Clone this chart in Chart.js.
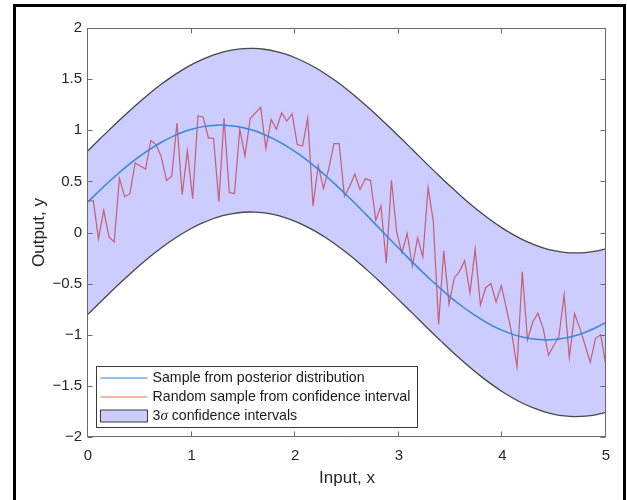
<!DOCTYPE html>
<html><head><meta charset="utf-8">
<script src="https://cdn.jsdelivr.net/npm/chart.js@4"></script>
<style>
html,body{margin:0;padding:0;background:#fff;}
#wrap{position:relative;width:627px;height:500px;overflow:hidden;}
#frame{position:absolute;left:13px;top:4px;width:607px;height:520px;border:3px solid #000;pointer-events:none;}
canvas{position:absolute;left:0;top:0;}
</style></head><body>
<div id="wrap"><canvas id="c" width="627" height="500"></canvas><div id="frame"></div></div>
<script>
// ---- data ----
const xTicks = [0, 1, 2, 3, 4, 5];
const yTicks = [-2, -1.5, -1, -0.5, 0, 0.5, 1, 1.5, 2];

const curveX = [0,0.1,0.2,0.3,0.4,0.5,0.6,0.7,0.8,0.9,1.0,1.1,1.2,1.3,1.4,1.5,1.6,1.7,1.8,1.9,2.0,2.1,2.2,2.3,2.4,2.5,2.6,2.7,2.8,2.9,3.0,3.1,3.2,3.3,3.4,3.5,3.6,3.7,3.8,3.9,4.0,4.1,4.2,4.3,4.4,4.5,4.6,4.7,4.8,4.9,5.0];
const posterior = [0.300,0.399,0.494,0.584,0.668,0.746,0.816,0.878,0.931,0.975,1.009,1.033,1.046,1.050,1.042,1.025,0.997,0.959,0.911,0.855,0.790,0.717,0.637,0.550,0.458,0.362,0.262,0.159,0.054,-0.051,-0.155,-0.258,-0.358,-0.455,-0.547,-0.634,-0.714,-0.787,-0.853,-0.910,-0.957,-0.996,-1.024,-1.042,-1.050,-1.047,-1.033,-1.010,-0.976,-0.932,-0.880];
const upperBound = [0.800,0.900,0.999,1.096,1.189,1.279,1.365,1.444,1.517,1.583,1.642,1.691,1.732,1.764,1.785,1.798,1.800,1.792,1.774,1.746,1.709,1.663,1.609,1.546,1.476,1.399,1.316,1.227,1.135,1.039,0.941,0.842,0.742,0.642,0.545,0.449,0.358,0.270,0.188,0.112,0.043,-0.018,-0.072,-0.116,-0.152,-0.178,-0.194,-0.200,-0.196,-0.183,-0.159];
const lowerBound = [-0.800,-0.700,-0.601,-0.504,-0.411,-0.321,-0.235,-0.156,-0.083,-0.017,0.042,0.091,0.132,0.164,0.185,0.198,0.200,0.192,0.174,0.146,0.109,0.063,0.009,-0.054,-0.124,-0.201,-0.284,-0.373,-0.465,-0.561,-0.659,-0.758,-0.858,-0.958,-1.055,-1.151,-1.242,-1.330,-1.412,-1.488,-1.557,-1.618,-1.672,-1.716,-1.752,-1.778,-1.794,-1.800,-1.796,-1.783,-1.759];

const sampleX = [0,0.051,0.101,0.152,0.202,0.253,0.303,0.354,0.404,0.455,0.505,0.556,0.606,0.657,0.707,0.758,0.808,0.859,0.909,0.960,1.010,1.061,1.111,1.162,1.212,1.263,1.313,1.364,1.414,1.465,1.515,1.566,1.616,1.667,1.717,1.768,1.818,1.869,1.919,1.970,2.020,2.071,2.121,2.172,2.222,2.273,2.323,2.374,2.424,2.475,2.525,2.576,2.626,2.677,2.727,2.778,2.828,2.879,2.929,2.980,3.030,3.081,3.131,3.182,3.232,3.283,3.333,3.384,3.434,3.485,3.535,3.586,3.636,3.687,3.737,3.788,3.838,3.889,3.939,3.990,4.040,4.091,4.141,4.192,4.242,4.293,4.343,4.394,4.444,4.495,4.545,4.596,4.646,4.697,4.747,4.798,4.848,4.899,4.949,5.000];
const sampleY = [0.31,0.31,-0.06,0.215,-0.04,-0.095,0.53,0.35,0.38,0.68,0.65,0.62,0.90,0.86,0.74,0.51,0.55,1.07,0.37,0.80,0.33,1.14,1.13,0.925,0.92,0.30,1.12,0.39,0.38,1.01,0.75,1.115,1.17,1.225,0.82,1.105,1.01,1.17,1.09,1.16,0.86,0.845,1.12,0.26,0.655,0.43,0.62,0.87,0.87,0.355,0.45,0.57,0.42,0.525,0.51,0.12,0.26,-0.30,0.51,0.00,-0.20,-0.01,-0.33,-0.05,-0.24,0.44,0.11,-0.90,-0.18,-0.70,-0.445,-0.38,-0.275,-0.59,-0.16,-0.71,-0.54,-0.50,-0.68,-0.52,-0.75,-0.99,-1.315,-0.385,-1.05,-0.875,-0.79,-0.94,-1.20,-1.105,-1.02,-0.61,-1.225,-0.795,-0.935,-1.10,-1.27,-1.035,-1.00,-1.31];

const legendLabels = ['Sample from posterior distribution', 'Random sample from confidence interval', '3σ confidence intervals'];

// ---- styles ----
const FAM = '"Liberation Sans", Arial, Helvetica, sans-serif';
const TXT = '#262626';
const BLUE = 'rgb(55,135,218)';
const RED = 'rgba(195,62,75,0.78)';
const BAND = 'rgb(204,204,255)';
const EDGE = '#474747';

const pts = (xs, ys) => xs.map((x, i) => ({x: x, y: ys[i]}));

const framePlugin = {
  id: 'frameTicks',
  afterDatasetsDraw(chart) {
    const {ctx, chartArea: a, scales: {x, y}} = chart;
    ctx.save();
    ctx.strokeStyle = '#6a6a6a';
    ctx.lineWidth = 1;
    const L = Math.round(a.left) - 0.5, R = Math.round(a.right) - 0.5;
    const T = Math.round(a.top) + 0.5, B = Math.round(a.bottom) - 0.5;
    ctx.beginPath();
    ctx.rect(L, T, R - L, B - T);
    xTicks.forEach(v => {
      const px = Math.round(x.getPixelForValue(v)) - 0.5;
      ctx.moveTo(px, B); ctx.lineTo(px, B - 5);
      ctx.moveTo(px, T); ctx.lineTo(px, T + 5);
    });
    yTicks.forEach(v => {
      const py = Math.round(y.getPixelForValue(v)) + 0.5;
      ctx.moveTo(L, py); ctx.lineTo(L + 5, py);
      ctx.moveTo(R, py); ctx.lineTo(R - 5, py);
    });
    ctx.stroke();
    ctx.restore();
  },
  afterDraw(chart) {
    const {ctx, chartArea: a} = chart;
    const bx = Math.round(a.left) + 8.5, by = Math.round(a.bottom) - 70.5, bw = 321, bh = 61;
    ctx.save();
    ctx.fillStyle = '#fff';
    ctx.fillRect(bx, by, bw, bh);
    ctx.strokeStyle = '#3a3a3a';
    ctx.lineWidth = 1;
    ctx.strokeRect(bx, by, bw, bh);
    const rows = [by + 11.5, by + 30.5, by + 49.5];
    const lx0 = bx + 4, lx1 = bx + 51, tx = bx + 56;
    ctx.lineWidth = 1.5;
    ctx.strokeStyle = 'rgb(110,170,232)';
    ctx.beginPath(); ctx.moveTo(lx0, rows[0]); ctx.lineTo(lx1, rows[0]); ctx.stroke();
    ctx.strokeStyle = 'rgb(240,160,135)';
    ctx.beginPath(); ctx.moveTo(lx0, rows[1]); ctx.lineTo(lx1, rows[1]); ctx.stroke();
    ctx.fillStyle = BAND;
    ctx.fillRect(lx0, rows[2] - 6, lx1 - lx0, 12);
    ctx.strokeStyle = '#3a3a3a'; ctx.lineWidth = 1;
    ctx.strokeRect(lx0, rows[2] - 6, lx1 - lx0, 12);
    ctx.fillStyle = '#1a1a1a';
    ctx.textBaseline = 'middle';
    ctx.textAlign = 'left';
    ctx.font = '14.2px ' + FAM;
    ctx.fillText(legendLabels[0], tx, rows[0] + 0.5);
    ctx.fillText(legendLabels[1], tx, rows[1] + 0.5);
    // third label with italic sigma
    const lab = legendLabels[2];
    const p0 = lab.slice(0, 1), p1 = lab.slice(1, 2), p2 = lab.slice(2);
    let cx = tx;
    ctx.fillText(p0, cx, rows[2] + 0.5); cx += ctx.measureText(p0).width;
    ctx.font = 'italic 15px "Liberation Serif", "DejaVu Serif", serif';
    ctx.fillText(p1, cx, rows[2] + 0.5); cx += ctx.measureText(p1).width;
    ctx.font = '14.2px ' + FAM;
    ctx.fillText(p2, cx, rows[2] + 0.5);
    ctx.restore();
  }
};

new Chart(document.getElementById('c'), {
  type: 'line',
  data: {
    datasets: [
      {label: legendLabels[0], data: pts(curveX, posterior), borderColor: BLUE, borderWidth: 1.5,
       pointRadius: 0, tension: 0.3, fill: false, order: 0},
      {label: legendLabels[1], data: pts(sampleX, sampleY), borderColor: RED, borderWidth: 1.2,
       pointRadius: 0, tension: 0, fill: false, order: 1},
      {label: 'upper', data: pts(curveX, upperBound), borderColor: EDGE, borderWidth: 1.3,
       pointRadius: 0, tension: 0.3, fill: '+1', backgroundColor: BAND, order: 3},
      {label: 'lower', data: pts(curveX, lowerBound), borderColor: EDGE, borderWidth: 1.3,
       pointRadius: 0, tension: 0.3, fill: false, order: 2}
    ]
  },
  options: {
    responsive: false,
    animation: false,
    events: [],
    layout: {padding: {left: 0, right: 21, top: 28, bottom: 0}},
    plugins: {legend: {display: false}, tooltip: {enabled: false}},
    scales: {
      x: {
        type: 'linear', min: 0, max: 5,
        afterBuildTicks: s => { s.ticks = xTicks.map(v => ({value: v})); },
        grid: {display: false, drawTicks: false},
        border: {display: false},
        ticks: {padding: 10, color: TXT, font: {size: 15, family: FAM}, maxRotation: 0, autoSkip: false},
        title: {display: true, text: 'Input, x', color: TXT, font: {size: 17, family: FAM}, padding: {top: 0, bottom: 11}},
        afterFit: s => { s.height = 63; }
      },
      y: {
        type: 'linear', min: -2, max: 2,
        afterBuildTicks: s => { s.ticks = yTicks.map(v => ({value: v})); },
        grid: {display: false, drawTicks: false},
        border: {display: false},
        ticks: {padding: 6, color: TXT, font: {size: 15, family: FAM}, autoSkip: false,
                callback: v => String(v).replace('-', '\u2212')},
        title: {display: true, text: 'Output, y', color: TXT, font: {size: 17, family: FAM}, padding: {top: 29, bottom: 0}},
        afterFit: s => { s.width = 88; }
      }
    }
  },
  plugins: [framePlugin]
});
</script>
</body></html>
